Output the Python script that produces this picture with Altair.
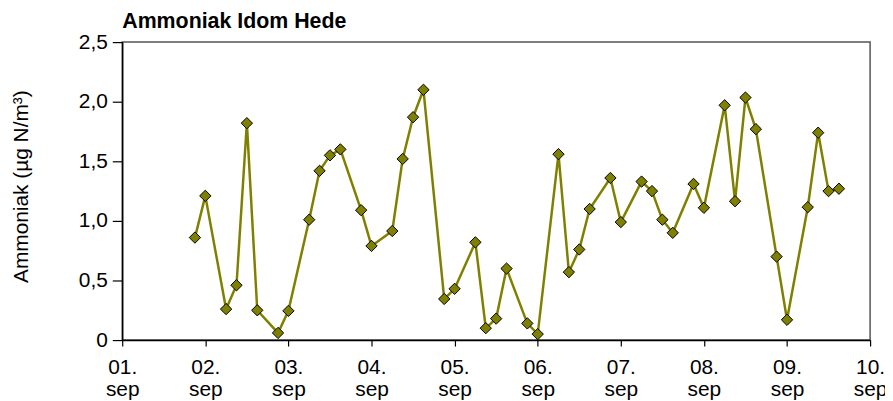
import altair as alt
import pandas as pd

times = [
    "2023-09-01T21:00",
    "2023-09-02T00:00", "2023-09-02T06:00", "2023-09-02T09:00", "2023-09-02T12:00", "2023-09-02T15:00", "2023-09-02T21:00",
    "2023-09-03T00:00", "2023-09-03T06:00", "2023-09-03T09:00", "2023-09-03T12:00", "2023-09-03T15:00", "2023-09-03T21:00",
    "2023-09-04T00:00", "2023-09-04T06:00", "2023-09-04T09:00", "2023-09-04T12:00", "2023-09-04T15:00", "2023-09-04T21:00",
    "2023-09-05T00:00", "2023-09-05T06:00", "2023-09-05T09:00", "2023-09-05T12:00", "2023-09-05T15:00", "2023-09-05T21:00",
    "2023-09-06T00:00", "2023-09-06T06:00", "2023-09-06T09:00", "2023-09-06T12:00", "2023-09-06T15:00", "2023-09-06T21:00",
    "2023-09-07T00:00", "2023-09-07T06:00", "2023-09-07T09:00", "2023-09-07T12:00", "2023-09-07T15:00", "2023-09-07T21:00",
    "2023-09-08T00:00", "2023-09-08T06:00", "2023-09-08T09:00", "2023-09-08T12:00", "2023-09-08T15:00", "2023-09-08T21:00",
    "2023-09-09T00:00", "2023-09-09T06:00", "2023-09-09T09:00", "2023-09-09T12:00", "2023-09-09T15:00",
]
values = [
    0.86,
    1.21, 0.26, 0.46, 1.82, 0.25, 0.06,
    0.245, 1.01, 1.42, 1.55, 1.60, 1.09,
    0.79, 0.915, 1.52, 1.87, 2.10, 0.345,
    0.43, 0.82, 0.10, 0.18, 0.60, 0.14,
    0.05, 1.56, 0.57, 0.76, 1.10, 1.36,
    0.99, 1.33, 1.25, 1.01, 0.90, 1.31,
    1.11, 1.97, 1.165, 2.035, 1.77, 0.70,
    0.17, 1.115, 1.74, 1.25, 1.27,
]
y_ticks = [0, 0.5, 1.0, 1.5, 2.0, 2.5]

df = pd.DataFrame({"tid": times, "verdi": values})

FONT = "Liberation Sans"
OLIVE = "#808000"

x_enc = alt.X(
    "tid:T",
    scale=alt.Scale(domain=["2023-09-01T00:00", "2023-09-10T00:00"], nice=False),
    axis=alt.Axis(
        title=None,
        tickCount={"interval": "day", "step": 1},
        labelExpr="[timeFormat(datum.value, '%d.'), 'sep']",
        labelLineHeight=22,
        tickSize=6,
        labelPadding=11,
        labelFlush=False,
    ),
)
y_enc = alt.Y(
    "verdi:Q",
    scale=alt.Scale(domain=[0, 2.5], nice=False),
    axis=alt.Axis(
        title="Ammoniak (µg N/m³)",
        values=y_ticks,
        labelExpr="datum.value == 0 ? '0' : replace(format(datum.value, '.1f'), '.', ',')",
        tickSize=10,
        labelPadding=5,
        titleX=-112,
        titleY=145,
        titleAngle=-90,
        titleAlign="center",
        titleBaseline="top",
        titleFontSize=21,
        titleFontWeight="normal",
    ),
)

base = alt.Chart(df).encode(x=x_enc, y=y_enc)
line = base.mark_line(color=OLIVE, strokeWidth=2.5)
pts = base.mark_point(shape="diamond", size=130, filled=True, fill=OLIVE, stroke="black", strokeWidth=1, opacity=1)

chart = (
    (line + pts)
    .properties(
        width=753,
        height=300,
        autosize=alt.AutoSizeParams(type="none"),
        padding={"left": 115, "top": 33, "right": 15, "bottom": 62},
        title=alt.TitleParams(
            "Ammoniak Idom Hede",
            anchor="start",
            frame="group",
            font=FONT,
            fontSize=21.5,
            fontWeight="bold",
            color="black",
            baseline="alphabetic",
            offset=1,
            dy=19,
        ),
    )
    .configure_view(stroke="#555555", strokeWidth=1.5)
    .configure_axis(
        grid=False,
        domainColor="black",
        domainWidth=1.5,
        tickColor="black",
        tickWidth=1.2,
        labelFont=FONT,
        labelFontSize=21,
        labelColor="black",
        titleFont=FONT,
        titleColor="black",
    )
)

chart.save("out.html", embed_options={"renderer": "svg", "actions": False})
